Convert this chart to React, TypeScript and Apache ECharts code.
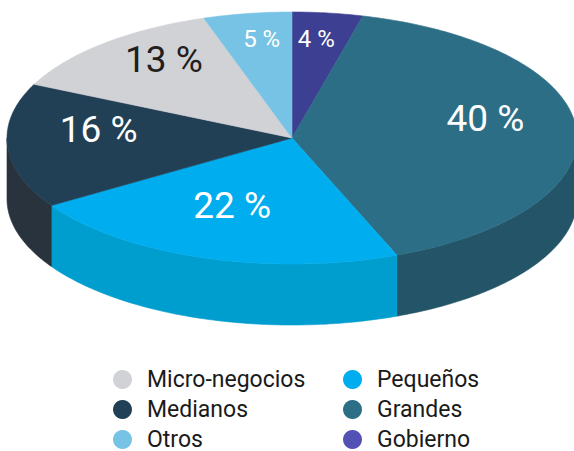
import React, { useEffect, useRef } from "react";
import * as echarts from "echarts";

// ---- data ----
const categories = ["Gobierno", "Grandes", "Pequeños", "Medianos", "Micro-negocios", "Otros"];
const shares = [4, 40, 22, 16, 13, 5];
const topColors = ["#3D3F92", "#2D6E87", "#00AEEF", "#213F55", "#D1D2D6", "#77C3E5"];
const sideColors = ["#2F316F", "#245468", "#009DCF", "#29333D", "#A9AAAE", "#5FA3C2"];
const labelColors = ["#FFFFFF", "#FFFFFF", "#FFFFFF", "#FFFFFF", "#231F20", "#FFFFFF"];
const legendLeftColumn = ["Micro-negocios", "Medianos", "Otros"];
const legendRightColumn = ["Pequeños", "Grandes", "Gobierno"];
const legendColorOverride: Record<string, string> = { Gobierno: "#5451B5" };

// ---- geometry (layout constants) ----
const CX = 292;
const CY = 138;
const RX = 285;
const RY = 126;
const DEPTH = 61;
const LABEL_R = 0.68;
const LABEL_LIFT = 14;

const total = shares.reduce((a, b) => a + b, 0);
const starts: number[] = [];
{
  let acc = 0;
  for (const v of shares) {
    starts.push(acc);
    acc += v;
  }
}

function arc(from: number, to: number, dy: number): number[][] {
  const n = Math.max(2, Math.ceil(Math.abs(to - from) / (Math.PI / 180)));
  const pts: number[][] = [];
  for (let k = 0; k <= n; k++) {
    const t = from + ((to - from) * k) / n;
    pts.push([CX + RX * Math.sin(t), CY - RY * Math.cos(t) + dy]);
  }
  return pts;
}

function makeRenderItem(i: number) {
  return (params: any, api: any) => {
    const value = api.value(0) as number;
    const a0 = (starts[i] / total) * Math.PI * 2;
    const a1 = ((starts[i] + value) / total) * Math.PI * 2;
    const children: any[] = [];
    const s0 = Math.max(a0, Math.PI / 2);
    const s1 = Math.min(a1, (Math.PI * 3) / 2);
    if (s1 > s0) {
      children.push({
        type: "polygon",
        z2: 1,
        shape: { points: [...arc(s0, s1, 0), ...arc(s1, s0, DEPTH)] },
        style: { fill: sideColors[i], stroke: sideColors[i], lineWidth: 0.6 },
      });
    }
    children.push({
      type: "polygon",
      z2: 2,
      shape: { points: [[CX, CY], ...arc(a0, a1, 0)] },
      style: { fill: topColors[i], stroke: topColors[i], lineWidth: 0.6 },
    });
    const mid = (a0 + a1) / 2;
    const big = value >= 10;
    children.push({
      type: "text",
      z2: 10,
      x: CX + RX * LABEL_R * Math.sin(mid),
      y: CY - LABEL_LIFT - RY * LABEL_R * Math.cos(mid),
      style: {
        text: `${value} %`,
        fill: labelColors[i],
        fontSize: big ? 37 : 24,
        fontFamily: "Roboto",
        fontWeight: 400,
        align: "center",
        verticalAlign: "middle",
      },
    });
    return { type: "group", children };
  };
}

function legendData(names: string[]) {
  return names.map((n) =>
    legendColorOverride[n] ? { name: n, itemStyle: { color: legendColorOverride[n] } } : { name: n }
  );
}

const legendCommon = {
  orient: "vertical" as const,
  top: 368,
  height: 120,
  padding: 0,
  itemWidth: 19,
  itemHeight: 19,
  itemGap: 7,
  icon: "circle",
  selectedMode: false,
  textStyle: {
    fontSize: 23,
    lineHeight: 19,
    color: "#1A1A1A",
    fontFamily: "Roboto",
    padding: [0, 0, 0, 10],
  },
};

export default function App() {
  const ref = useRef<HTMLDivElement>(null);
  useEffect(() => {
    if (!ref.current) return;
    const chart = echarts.init(ref.current, undefined, { renderer: "svg" });
    chart.setOption({
      animation: false,
      backgroundColor: "#FFFFFF",
      legend: [
        { ...legendCommon, left: 113, data: legendData(legendLeftColumn) },
        { ...legendCommon, left: 343, data: legendData(legendRightColumn) },
      ],
      series: categories.map((name, i) => ({
        type: "custom",
        name,
        coordinateSystem: "none",
        itemStyle: { color: topColors[i] },
        data: [[shares[i]]],
        renderItem: makeRenderItem(i),
      })),
    });
    return () => chart.dispose();
  }, []);
  return (
    <div
      ref={ref}
      style={{ position: "fixed", left: 0, top: 0, width: 574, height: 451, background: "#fff" }}
    />
  );
}
